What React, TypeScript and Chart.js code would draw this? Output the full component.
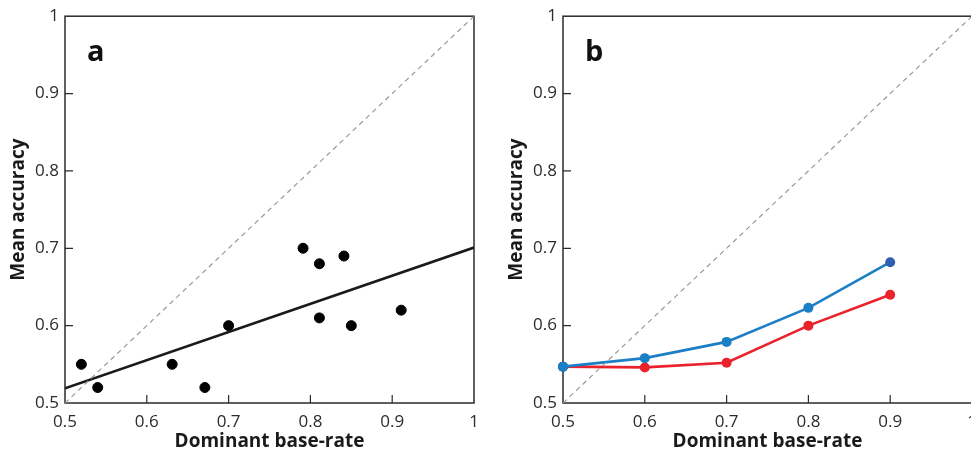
import React, { useEffect, useRef } from 'react';
import { Chart, registerables } from 'chart.js';
Chart.register(...registerables);

// ---- data ----
const xTicks = [0.5, 0.6, 0.7, 0.8, 0.9, 1];
const yTicks = [0.5, 0.6, 0.7, 0.8, 0.9, 1];
const panelLetters = ['a', 'b'];
const xTitle = 'Dominant base-rate';
const yTitle = 'Mean accuracy';

// panel a
const scatterX = [0.52, 0.54, 0.631, 0.671, 0.70, 0.791, 0.811, 0.811, 0.841, 0.85, 0.911];
const scatterY = [0.55, 0.52, 0.55, 0.52, 0.60, 0.70, 0.68, 0.61, 0.69, 0.60, 0.62];
const fitX = [0.5, 1];
const fitY = [0.519, 0.701];
const diagX = [0.5, 1];
const diagY = [0.5, 1];

// panel b
const baseRates = [0.5, 0.6, 0.7, 0.8, 0.9];
const blueSeries = [0.547, 0.558, 0.579, 0.623, 0.682];
const redSeries = [0.547, 0.546, 0.552, 0.6, 0.64];

const FONT = "'Open Sans', 'Noto Sans', sans-serif";
const INK = '#2b2b2b';

const zip = (xs: number[], ys: number[]) => xs.map((x, i) => ({ x, y: ys[i] }));

const framePlugin = {
  id: 'frame',
  beforeDatasetsDraw(chart: any) {
    const { ctx, chartArea, scales } = chart;
    const { left, right, top, bottom } = chartArea;
    ctx.save();
    ctx.strokeStyle = INK;
    ctx.lineWidth = 1.5;
    ctx.strokeRect(left, top, right - left, bottom - top);
    ctx.lineWidth = 1.2;
    ctx.beginPath();
    xTicks.slice(1, -1).forEach((v) => {
      const px = scales.x.getPixelForValue(v);
      ctx.moveTo(px, bottom);
      ctx.lineTo(px, bottom - 8);
    });
    yTicks.slice(1, -1).forEach((v) => {
      const py = scales.y.getPixelForValue(v);
      ctx.moveTo(left, py);
      ctx.lineTo(left + 8, py);
    });
    ctx.stroke();
    ctx.restore();
  },
  afterDraw(chart: any, _args: any, opts: any) {
    const { ctx, chartArea } = chart;
    ctx.save();
    ctx.fillStyle = '#111';
    ctx.font = `bold 29px ${FONT}`;
    ctx.textBaseline = 'alphabetic';
    ctx.fillText(opts.letter, chartArea.left + 22, chartArea.top + 45);
    ctx.restore();
  },
};

function makeScales(yWidth: number, yTitlePad: number) {
  const tickFont = { family: FONT, size: 17 };
  const titleFont = { family: FONT, size: 19, weight: 'bold' as const };
  return {
    x: {
      type: 'linear' as const,
      min: 0.5,
      max: 1,
      afterBuildTicks: (s: any) => { s.ticks = xTicks.map((v) => ({ value: v })); },
      afterFit: (s: any) => { s.height = 50; },
      grid: { display: false, drawTicks: false },
      border: { display: false },
      ticks: {
        padding: 9,
        color: INK,
        font: tickFont,
        maxRotation: 0,
        callback: (v: any) => (v === 1 ? '1' : Number(v).toFixed(1)),
      },
      title: { display: true, text: xTitle, color: '#1a1a1a', font: titleFont, padding: { top: 0, bottom: 0 } },
    },
    y: {
      type: 'linear' as const,
      min: 0.5,
      max: 1,
      afterBuildTicks: (s: any) => { s.ticks = yTicks.map((v) => ({ value: v })); },
      afterFit: (s: any) => { s.width = yWidth; },
      grid: { display: false, drawTicks: false },
      border: { display: false },
      ticks: {
        padding: 6,
        color: INK,
        font: tickFont,
        callback: (v: any) => (v === 1 ? '1' : Number(v).toFixed(1)),
      },
      title: { display: true, text: yTitle, color: '#1a1a1a', font: titleFont, padding: { top: yTitlePad, bottom: 0 } },
    },
  };
}

function PanelA() {
  const ref = useRef<HTMLCanvasElement>(null);
  useEffect(() => {
    const chart = new Chart(ref.current!, {
      type: 'scatter',
      data: {
        datasets: [
          {
            type: 'line',
            data: zip(diagX, diagY),
            borderColor: '#9a9a9a',
            borderWidth: 1.2,
            borderDash: [5, 4],
            pointRadius: 0,
          },
          {
            type: 'line',
            data: zip(fitX, fitY),
            borderColor: '#1a1a1a',
            borderWidth: 2.6,
            pointRadius: 0,
          },
          {
            type: 'scatter',
            data: zip(scatterX, scatterY),
            backgroundColor: '#000',
            borderColor: '#000',
            pointRadius: 5,
          },
        ] as any,
      },
      options: {
        responsive: false,
        animation: false,
        layout: { padding: { top: 13, right: 16, left: 0, bottom: 0 } },
        scales: makeScales(65, 7) as any,
        plugins: { legend: { display: false }, tooltip: { enabled: false }, frame: { letter: panelLetters[0] } } as any,
      },
      plugins: [framePlugin],
    });
    return () => chart.destroy();
  }, []);
  return <canvas ref={ref} width={490} height={453} style={{ position: 'absolute', left: 0, top: 0 }} />;
}

function PanelB() {
  const ref = useRef<HTMLCanvasElement>(null);
  useEffect(() => {
    const chart = new Chart(ref.current!, {
      type: 'line',
      data: {
        datasets: [
          {
            data: zip(diagX, diagY),
            borderColor: '#9a9a9a',
            borderWidth: 1.2,
            borderDash: [5, 4],
            pointRadius: 0,
          },
          {
            data: zip(baseRates, blueSeries),
            borderColor: '#1b7fc6',
            backgroundColor: baseRates.map((_, i) => (i === baseRates.length - 1 ? '#2f5fae' : '#1b7fc6')),
            borderWidth: 2.6,
            pointRadius: 5,
            pointBorderWidth: 0,
            clip: false,
          },
          {
            data: zip(baseRates, redSeries),
            borderColor: '#e9222b',
            backgroundColor: baseRates.map((_, i) => (i === 0 ? '#231f20' : '#e9222b')),
            borderWidth: 2.6,
            pointRadius: 5,
            pointBorderWidth: 0,
            clip: false,
          },
        ] as any,
      },
      options: {
        responsive: false,
        animation: false,
        layout: { padding: { top: 13, right: 18, left: 0, bottom: 0 } },
        scales: makeScales(73, 15) as any,
        plugins: { legend: { display: false }, tooltip: { enabled: false }, frame: { letter: panelLetters[1] } } as any,
      },
      plugins: [framePlugin],
    });
    return () => chart.destroy();
  }, []);
  return <canvas ref={ref} width={500} height={453} style={{ position: 'absolute', left: 490, top: 0 }} />;
}

export default function App() {
  return (
    <div style={{ position: 'fixed', left: 0, top: 0, width: 971, height: 453, overflow: 'hidden', background: '#fff' }}>
      <PanelA />
      <PanelB />
    </div>
  );
}
